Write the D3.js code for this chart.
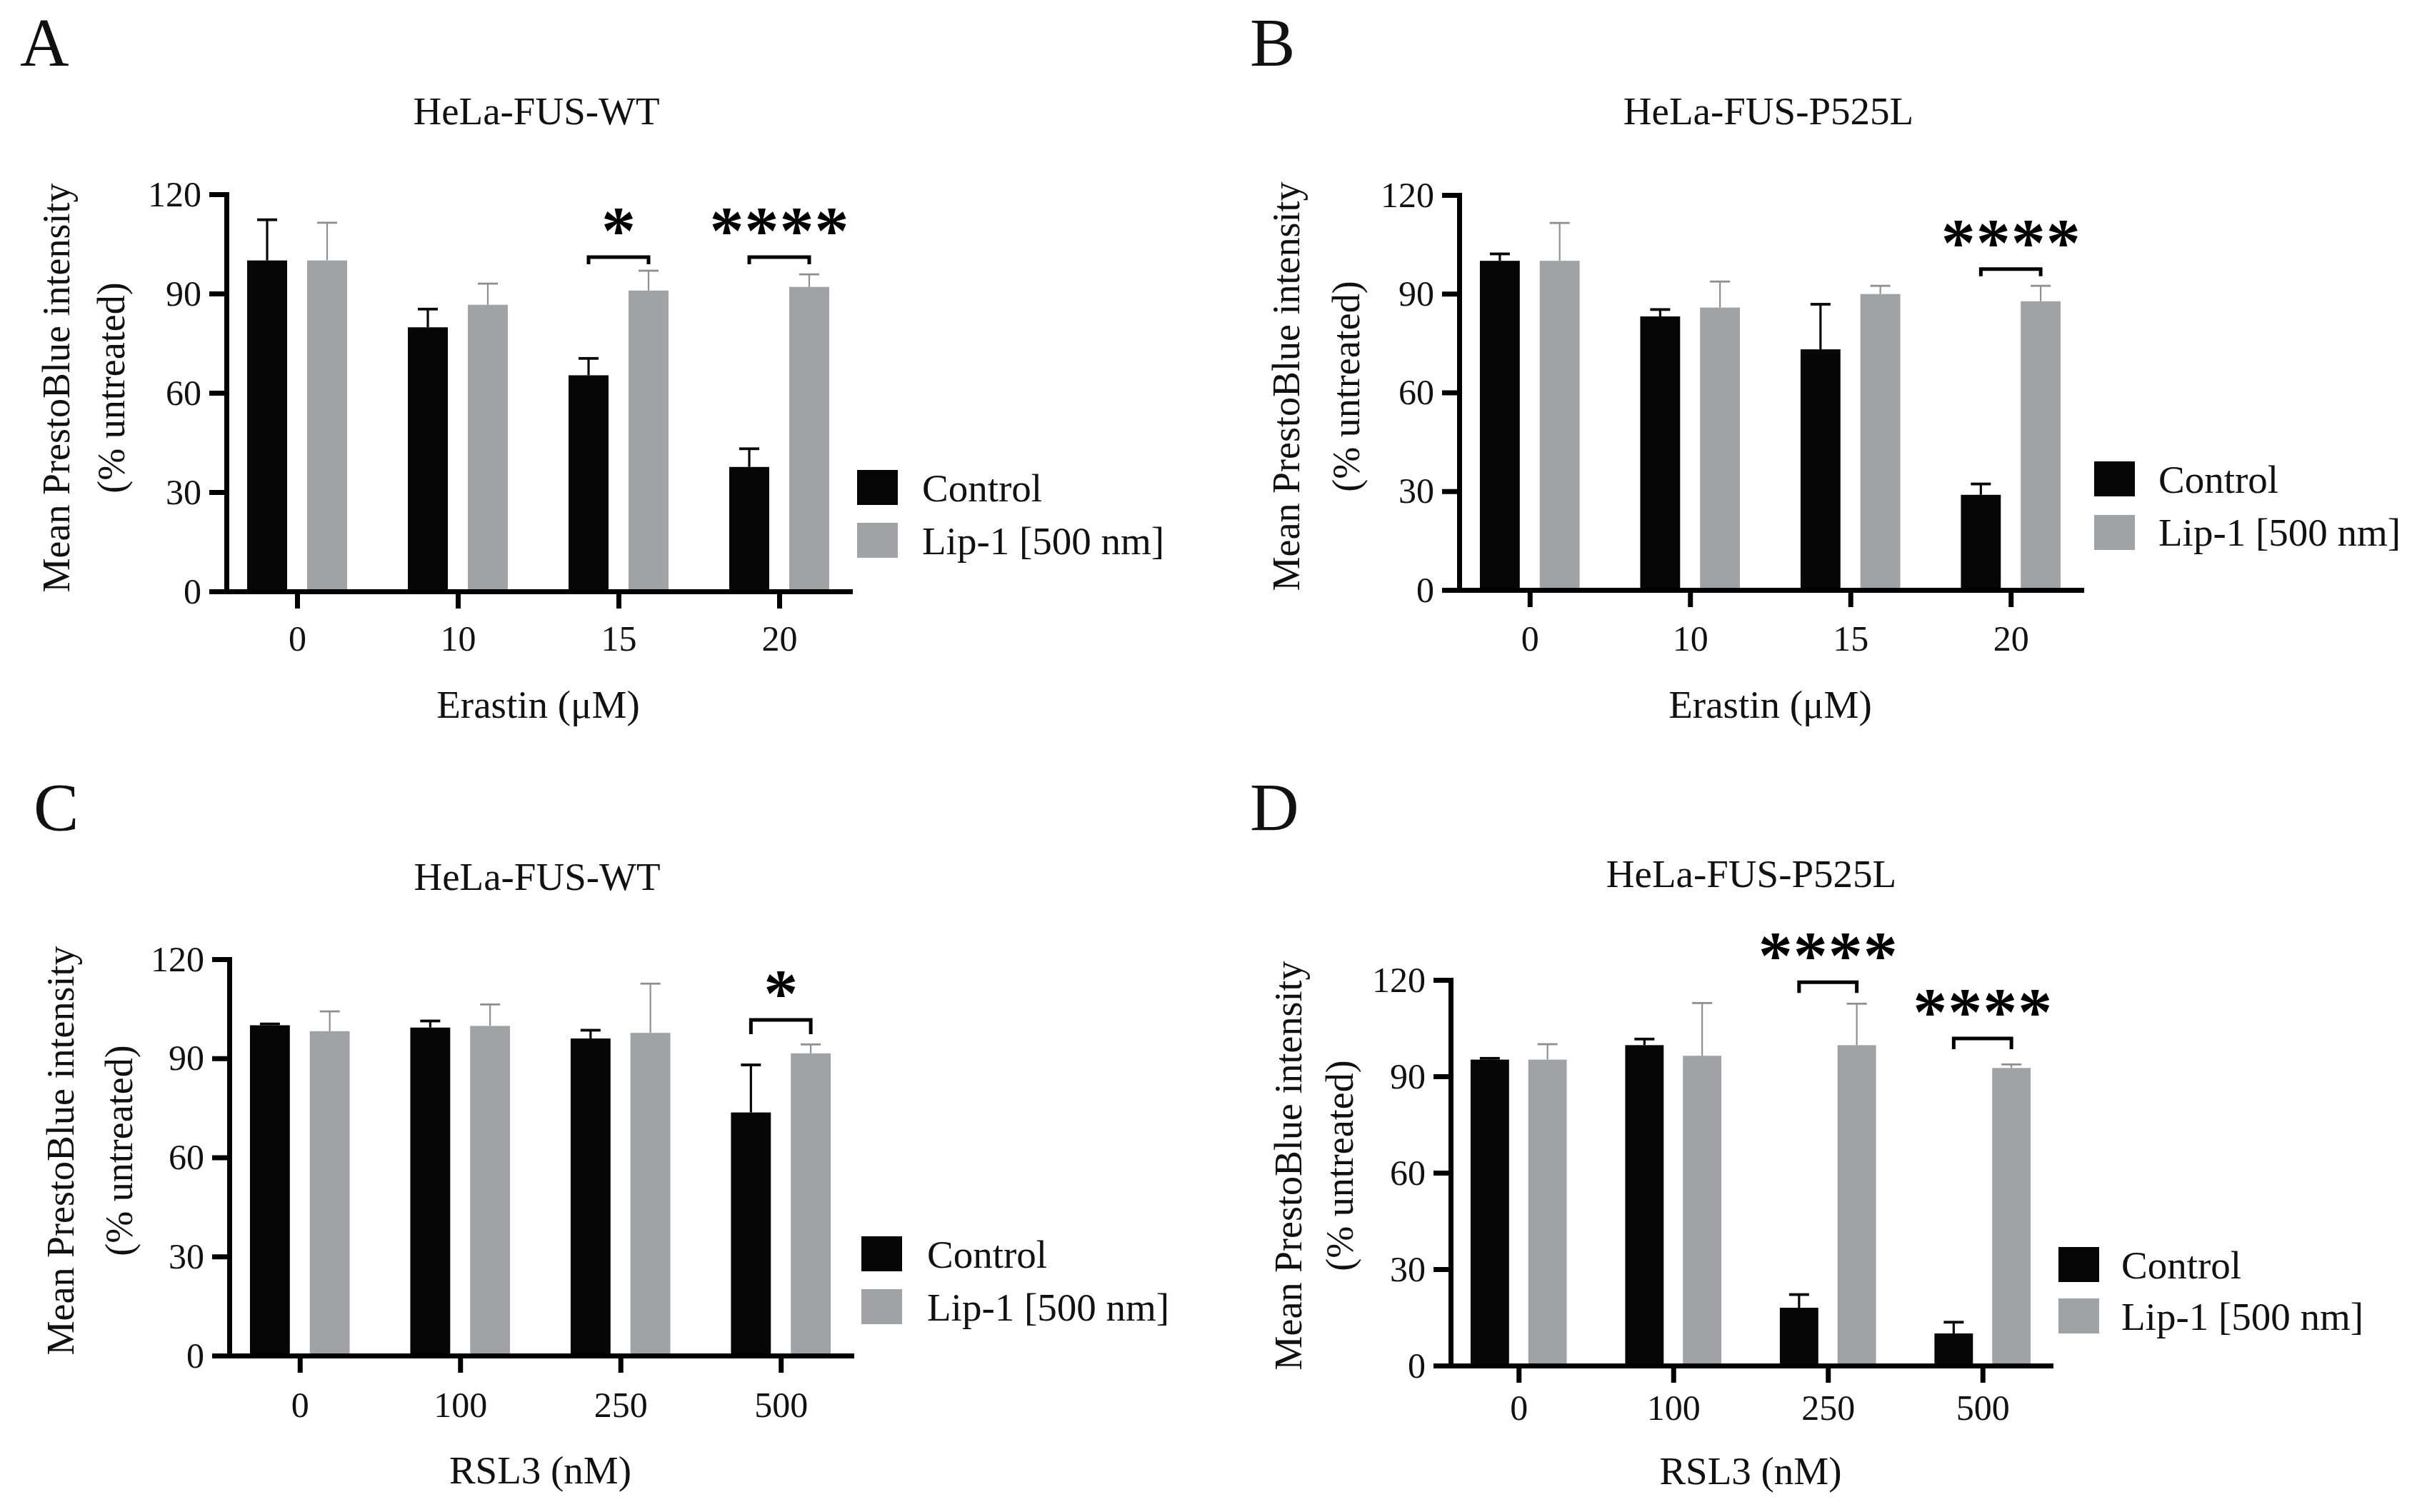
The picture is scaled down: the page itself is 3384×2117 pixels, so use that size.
<!DOCTYPE html>
<html>
<head>
<meta charset="utf-8">
<script src="https://cdn.jsdelivr.net/npm/d3@7/dist/d3.min.js"></script>
<style>
  html, body { margin: 0; padding: 0; background: #fff; }
  svg { display: block; }
  text { font-family: "Liberation Serif", "Times New Roman", serif; fill: #111; }
</style>
</head>
<body>
<svg id="chart" width="3384" height="2117"></svg>
<script>
// ---------------- DATA ----------------
const erastinDoses = ['0', '10', '15', '20'];
const rsl3Doses = ['0', '100', '250', '500'];
const seriesNames = ['Control', 'Lip-1 [500 nm]'];
const yTicks = [0, 30, 60, 90, 120];

// Panel A: HeLa-FUS-WT, Erastin
const aControl = [100, 79.8, 65.3, 37.6];
const aControlErr = [12.3, 5.5, 5.1, 5.5];
const aLip = [100, 86.6, 90.9, 92.0];
const aLipErr = [11.4, 6.4, 6.0, 3.8];
const aSig = [{ dose: '15', label: '*', at: 101 }, { dose: '20', label: '****', at: 101 }];

// Panel B: HeLa-FUS-P525L, Erastin
const bControl = [100, 83.1, 73.1, 28.9];
const bControlErr = [2.1, 2.1, 13.7, 3.3];
const bLip = [100, 85.8, 89.9, 87.7];
const bLipErr = [11.5, 7.9, 2.5, 4.7];
const bSig = [{ dose: '20', label: '****', at: 97.5 }];

// Panel C: HeLa-FUS-WT, RSL3
const cControl = [100, 99.3, 96.0, 73.6];
const cControlErr = [0.4, 2.0, 2.5, 14.4];
const cLip = [98.2, 99.8, 97.7, 91.5];
const cLipErr = [6.0, 6.5, 14.9, 2.7];
const cSig = [{ dose: '500', label: '*', at: 101.6 }];

// Panel D: HeLa-FUS-P525L, RSL3
const dControl = [95.2, 99.7, 18.0, 10.0];
const dControlErr = [0.4, 1.9, 4.1, 3.5];
const dLip = [95.2, 96.4, 99.7, 92.6];
const dLipErr = [4.8, 16.4, 12.9, 1.1];
const dSig = [{ dose: '250', label: '****', at: 119.3 }, { dose: '500', label: '****', at: 101.8 }];

const panels = [
  { letter: 'A', title: 'HeLa-FUS-WT', doses: erastinDoses, xLabel: 'Erastin (μM)',
    control: aControl, controlErr: aControlErr, lip: aLip, lipErr: aLipErr, sig: aSig },
  { letter: 'B', title: 'HeLa-FUS-P525L', doses: erastinDoses, xLabel: 'Erastin (μM)',
    control: bControl, controlErr: bControlErr, lip: bLip, lipErr: bLipErr, sig: bSig },
  { letter: 'C', title: 'HeLa-FUS-WT', doses: rsl3Doses, xLabel: 'RSL3 (nM)',
    control: cControl, controlErr: cControlErr, lip: cLip, lipErr: cLipErr, sig: cSig },
  { letter: 'D', title: 'HeLa-FUS-P525L', doses: rsl3Doses, xLabel: 'RSL3 (nM)',
    control: dControl, controlErr: dControlErr, lip: dLip, lipErr: dLipErr, sig: dSig }
];

// ---------------- LAYOUT ----------------
const layouts = [
  { letterX: 28, letterY: 92, titleX: 751, titleY: 174, x0: 317, x1: 1190, yBot: 828, yTop: 272,
    tickBase: 911, xTitleY: 1005, yl1X: 78, yl2X: 155, ylY: 543, legX: 1200, legY: [658, 732],
    legTX: 1291, legBase: [702, 776], legLen: 10 },
  { letterX: 1750, letterY: 92, titleX: 2476, titleY: 174, x0: 2043, x1: 2914, yBot: 826, yTop: 273,
    tickBase: 911, xTitleY: 1005, yl1X: 1800, yl2X: 1884, ylY: 541, legX: 2932, legY: [646, 721],
    legTX: 3022, legBase: [690, 764], legLen: 10 },
  { letterX: 47, letterY: 1163, titleX: 752, titleY: 1246, x0: 321, x1: 1192, yBot: 1898, yTop: 1343,
    tickBase: 1984, xTitleY: 2077, yl1X: 84, yl2X: 166, ylY: 1611, legX: 1206, legY: [1731, 1805],
    legTX: 1298, legBase: [1775, 1849], legLen: 20 },
  { letterX: 1750, letterY: 1163, titleX: 2452, titleY: 1242, x0: 2031, x1: 2871, yBot: 1912, yTop: 1372,
    tickBase: 1988, xTitleY: 2078, yl1X: 1803, yl2X: 1875, ylY: 1632, legX: 2882, legY: [1746, 1818],
    legTX: 2970, legBase: [1790, 1862], legLen: 15 }
];

const colors = { control: '#060606', lip: '#a1a2a5', lipErr: '#8e8f92' };

const svg = d3.select('#chart');

panels.forEach((p, i) => {
  const L = layouts[i];
  const g = svg.append('g');

  const y = d3.scaleLinear().domain([0, 120]).range([L.yBot, L.yTop]);
  const x = d3.scalePoint().domain(p.doses).range([L.x0, L.x1]).padding(0.44);
  const step = x.step();
  const xs = d3.scaleBand().domain(seriesNames).range([-step * 0.311, step * 0.311]).paddingInner(1 / 3);

  // panel letter & title
  g.append('text').attr('x', L.letterX).attr('y', L.letterY)
    .attr('font-size', 95).text(p.letter);
  g.append('text').attr('x', L.titleX).attr('y', L.titleY)
    .attr('text-anchor', 'middle').attr('font-size', 55).text(p.title);

  // bars
  const rows = p.doses.map((d, k) => ({
    dose: d,
    vals: [
      { s: seriesNames[0], v: p.control[k], e: p.controlErr[k] },
      { s: seriesNames[1], v: p.lip[k], e: p.lipErr[k] }
    ]
  }));

  const grp = g.append('g').selectAll('g').data(rows).join('g')
    .attr('transform', d => `translate(${x(d.dose)},0)`);

  // error bars (upper only), drawn behind bars
  grp.selectAll('.err').data(d => d.vals).join('g').attr('class', 'err')
    .each(function (d, j) {
      const eg = d3.select(this);
      const cx = xs(d.s) + xs.bandwidth() / 2;
      const col = j === 0 ? colors.control : colors.lipErr;
      const sw = j === 0 ? 3.2 : 2.2;
      eg.append('line').attr('x1', cx).attr('x2', cx)
        .attr('y1', y(d.v)).attr('y2', y(d.v + d.e))
        .attr('stroke', col).attr('stroke-width', sw);
      eg.append('line').attr('x1', cx - 14).attr('x2', cx + 14)
        .attr('y1', y(d.v + d.e)).attr('y2', y(d.v + d.e))
        .attr('stroke', col).attr('stroke-width', sw + 0.6);
    });

  grp.selectAll('rect').data(d => d.vals).join('rect')
    .attr('x', d => xs(d.s))
    .attr('width', xs.bandwidth())
    .attr('y', d => y(d.v))
    .attr('height', d => y(0) - y(d.v))
    .attr('fill', (d, j) => j === 0 ? colors.control : colors.lip);

  // y axis
  const yAxis = d3.axisLeft(y).tickValues(yTicks).tickSize(24).tickSizeOuter(0).tickPadding(11);
  const ya = g.append('g').attr('transform', `translate(${L.x0},0)`).call(yAxis);
  ya.select('.domain').attr('stroke', '#000').attr('stroke-width', 7).attr('stroke-linecap', 'square');
  ya.selectAll('.tick line').attr('stroke', '#000').attr('stroke-width', 7);
  ya.selectAll('.tick text').attr('font-family', '"Liberation Serif", serif')
    .attr('font-size', 50).attr('fill', '#111');

  // x axis
  const xAxis = d3.axisBottom(x).tickSize(24).tickSizeOuter(0).tickPadding(0);
  const xa = g.append('g').attr('transform', `translate(0,${L.yBot})`).call(xAxis);
  xa.select('.domain').attr('stroke', '#000').attr('stroke-width', 7).attr('stroke-linecap', 'square');
  xa.selectAll('.tick line').attr('stroke', '#000').attr('stroke-width', 7);
  xa.selectAll('.tick text').attr('font-family', '"Liberation Serif", serif')
    .attr('font-size', 50).attr('fill', '#111')
    .attr('dy', null).attr('y', L.tickBase - L.yBot);

  // axis titles
  g.append('text').attr('x', (L.x0 + L.x1) / 2).attr('y', L.xTitleY)
    .attr('text-anchor', 'middle').attr('font-size', 55).text(p.xLabel);
  g.append('text').attr('transform', `translate(${L.yl1X},${L.ylY}) rotate(-90)`)
    .attr('text-anchor', 'middle').attr('dy', '0.35em').attr('font-size', 54)
    .text('Mean PrestoBlue intensity');
  g.append('text').attr('transform', `translate(${L.yl2X},${L.ylY}) rotate(-90)`)
    .attr('text-anchor', 'middle').attr('dy', '0.35em').attr('font-size', 54)
    .text('(% untreated)');

  // significance brackets
  p.sig.forEach(s => {
    const cx = x(s.dose);
    const xa0 = cx + xs(seriesNames[0]) + xs.bandwidth() / 2;
    const xa1 = cx + xs(seriesNames[1]) + xs.bandwidth() / 2;
    const by = y(s.at);
    g.append('path')
      .attr('d', `M${xa0},${by + L.legLen}V${by}H${xa1}V${by + L.legLen}`)
      .attr('fill', 'none').attr('stroke', '#000').attr('stroke-width', 5);
    const ls = 1;
    g.append('text').attr('x', cx + ls / 2).attr('y', by - 5)
      .attr('text-anchor', 'middle')
      .attr('font-family', '"Liberation Sans", Arial, sans-serif')
      .attr('font-weight', 'bold').attr('font-size', 96)
      .attr('letter-spacing', ls)
      .style('fill', '#000')
      .text(s.label);
  });

  // legend
  seriesNames.forEach((name, j) => {
    g.append('rect').attr('x', L.legX).attr('y', L.legY[j]).attr('width', 57).attr('height', 49)
      .attr('fill', j === 0 ? colors.control : colors.lip);
    g.append('text').attr('x', L.legTX).attr('y', L.legBase[j]).attr('font-size', 55).text(name);
  });
});
</script>
</body>
</html>
